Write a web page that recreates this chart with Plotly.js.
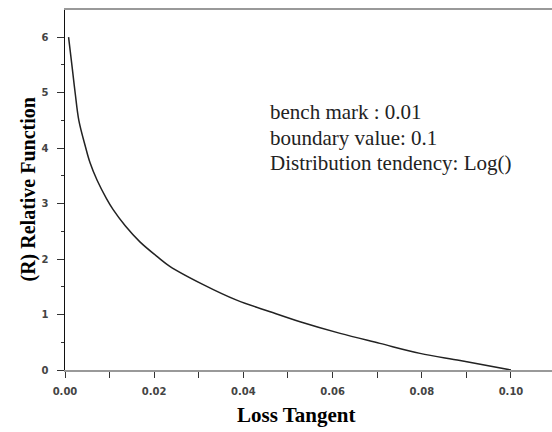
<!DOCTYPE html>
<html>
<head>
<meta charset="utf-8">
<script src="https://cdn.plot.ly/plotly-3.0.1.min.js"></script>
<style>html,body{margin:0;padding:0;background:#fff;}#chart{width:552px;height:432px;}</style>
</head>
<body>
<div id="chart"></div>
<script>
// Values
const lossTangent = [0.0008, 0.0016, 0.0023, 0.0031, 0.0046, 0.0056, 0.0072, 0.0093, 0.0108, 0.0135, 0.0168, 0.0209, 0.0235, 0.031, 0.0385, 0.046, 0.0527, 0.0617, 0.0706, 0.0796, 0.0886, 0.1];
const relativeFunction = [6.0, 5.46, 4.98, 4.5, 4.02, 3.74, 3.42, 3.09, 2.89, 2.6, 2.31, 2.03, 1.87, 1.54, 1.26, 1.05, 0.87, 0.66, 0.48, 0.30, 0.17, 0.0];
const xTickVals = [0, 0.02, 0.04, 0.06, 0.08, 0.10];
const xTickText = ['0.00', '0.02', '0.04', '0.06', '0.08', '0.10'];
const yTickVals = [0, 1, 2, 3, 4, 5, 6];
const infoLines = ['bench mark : 0.01', 'boundary value: 0.1', 'Distribution tendency: Log()'];
const xTitle = 'Loss Tangent';
const yTitle = '(R) Relative Function';

const trace = {
  x: lossTangent, y: relativeFunction, type: 'scatter', mode: 'lines',
  line: {color: '#222', width: 1.5, shape: 'spline', smoothing: 1},
  hoverinfo: 'none'
};

const tickFont = {family: 'DejaVu Sans', size: 10, color: '#444', weight: 'bold'};
const infoFont = {family: 'Liberation Serif', size: 21, color: '#222'};
const infoY = [0.7167, 0.6444, 0.575];

const annotations = [
  {text: xTitle, xref: 'paper', yref: 'paper', x: 0.474, y: -0.125, xanchor: 'center', yanchor: 'middle', showarrow: false,
   font: {family: 'Liberation Serif', size: 21, color: '#000', weight: 'bold'}},
  {text: yTitle, xref: 'paper', yref: 'paper', x: -0.077, y: 0.5, xanchor: 'center', yanchor: 'middle', showarrow: false,
   textangle: -90, font: {family: 'Liberation Serif', size: 20, color: '#000', weight: 'bold'}}
];
infoLines.forEach((t, i) => annotations.push({
  text: t, xref: 'paper', yref: 'paper', x: 0.4168, y: infoY[i], xanchor: 'left', yanchor: 'middle',
  align: 'left', showarrow: false, font: infoFont
}));

const layout = {
  width: 552, height: 432,
  margin: {l: 65, r: 0, t: 10, b: 62},
  paper_bgcolor: '#fff', plot_bgcolor: '#fff',
  showlegend: false,
  xaxis: {
    range: [0, 0.1092], showgrid: false, zeroline: false,
    showline: true, linecolor: '#999', linewidth: 2, mirror: true,
    tickmode: 'array', tickvals: xTickVals, ticktext: xTickText,
    ticks: 'outside', ticklen: 6, tickwidth: 1, tickcolor: '#333',
    minor: {dtick: 0.01, ticks: 'outside', ticklen: 6, tickcolor: '#333'},
    tickfont: tickFont, ticklabelstandoff: 5
  },
  yaxis: {
    range: [0, 6.49], showgrid: false, zeroline: false,
    showline: true, linecolor: '#111', linewidth: 1.5,
    tickmode: 'array', tickvals: yTickVals,
    ticks: 'outside', ticklen: 7, tickwidth: 1, tickcolor: '#333',
    minor: {dtick: 0.5, ticks: 'outside', ticklen: 3, tickcolor: '#333'},
    tickfont: tickFont, ticklabelstandoff: 6
  },
  annotations: annotations
};

Plotly.newPlot('chart', [trace], layout, {displayModeBar: false, staticPlot: true});
</script>
</body>
</html>
